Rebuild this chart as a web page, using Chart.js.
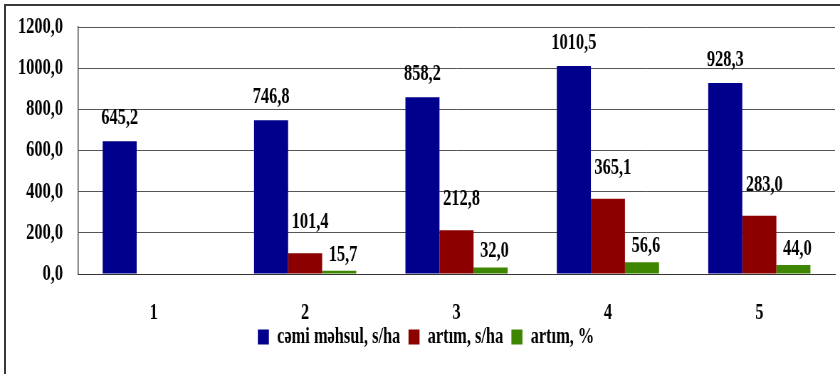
<!DOCTYPE html>
<html>
<head>
<meta charset="utf-8">
<script src="https://cdn.jsdelivr.net/npm/chart.js@4.4.1/dist/chart.umd.min.js"></script>
<style>
  html, body { margin: 0; padding: 0; overflow: hidden; background: #fff; width: 840px; height: 374px; }
  #frame { position: absolute; left: 4px; top: 4px; width: 900px; height: 420px;
           border-left: 2px solid #383838; border-top: 2px solid #383838; }
  /* text in the original is narrow, so draw wide and squeeze horizontally */
  #wrap { position: absolute; left: 0; top: 0; width: 1180px; height: 374px;
          transform: scaleX(0.71186); transform-origin: 0 0; }
</style>
</head>
<body>
<div id="frame"></div>
<div id="wrap"><canvas id="myChart"></canvas></div>
<script>
// categories and series
const categories = ['1', '2', '3', '4', '5'];
const totalYield = [645.2, 746.8, 858.2, 1010.5, 928.3];
const gainAbs = [null, 101.4, 212.8, 365.1, 283.0];
const gainPct = [null, 15.7, 32.0, 56.6, 44.0];
const seriesNames = ['cəmi məhsul, s/ha', 'artım, s/ha', 'artım, %'];

const fontFamily = "'Liberation Serif', 'Times New Roman', serif";
const fmt = v => v.toFixed(1).replace('.', ',');

// value labels above bars
const valueLabels = {
    id: 'valueLabels',
    afterDatasetsDraw(chart, args, opts) {
        const ctx = chart.ctx;
        ctx.save();
        ctx.font = 'bold 23px ' + fontFamily;
        ctx.fillStyle = '#000';
        ctx.textAlign = 'center';
        ctx.textBaseline = 'middle';
        chart.data.datasets.forEach((ds, i) => {
            const meta = chart.getDatasetMeta(i);
            meta.data.forEach((bar, j) => {
                const v = ds.data[j];
                if (v === null) return;
                ctx.fillText(fmt(v), bar.x + opts.shiftX[i], bar.y - opts.offsets[i]);
            });
        });
        ctx.restore();
    }
};

const ctx = document.getElementById('myChart').getContext('2d');

const myChart = new Chart(ctx, {
    type: 'bar',
    data: {
        labels: categories,
        datasets: [
            { label: seriesNames[0], data: totalYield, backgroundColor: '#00008c' },
            { label: seriesNames[1], data: gainAbs, backgroundColor: '#8c0000' },
            { label: seriesNames[2], data: gainPct, backgroundColor: '#3f8600' }
        ]
    },
    options: {
        responsive: true,
        maintainAspectRatio: false,
        animation: false,
        datasets: {
            bar: { barPercentage: 1.0, categoryPercentage: 0.675 }
        },
        layout: { padding: { left: 24, right: 7, top: 27, bottom: 15.5 } },
        scales: {
            x: {
                grid: { display: false, drawTicks: false },
                border: { display: true, color: '#333', width: 1 },
                ticks: {
                    padding: 25.2,
                    color: '#000',
                    font: { family: fontFamily, size: 23, weight: 'bold' }
                },
                afterFit(scale) { scale.height = 51.5; }
            },
            y: {
                min: 0,
                max: 1200,
                grid: { color: '#555', lineWidth: 1, drawTicks: false },
                border: { display: true, color: '#333', width: 1.4 },
                ticks: {
                    stepSize: 200,
                    padding: 21,
                    color: '#000',
                    font: { family: fontFamily, size: 23, weight: 'bold', lineHeight: 0.5 },
                    callback: v => fmt(v)
                },
                afterFit(scale) { scale.width = 85.6; }
            }
        },
        plugins: {
            legend: {
                position: 'bottom',
                labels: {
                    boxWidth: 15.5,
                    boxHeight: 15,
                    padding: 0,
                    color: '#000',
                    font: { family: fontFamily, size: 23, weight: 'bold' },
                    generateLabels(chart) {
                        const items = Chart.defaults.plugins.legend.labels.generateLabels(chart);
                        // a little room between legend entries
                        items.forEach((it, i) => { if (i < items.length - 1) it.text += '  '; });
                        return items;
                    }
                }
            },
            tooltip: { enabled: false },
            valueLabels: { offsets: [23, 31, 16], shiftX: [0, 7, 5.5] }
        }
    },
    plugins: [valueLabels]
});
</script>
</body>
</html>
